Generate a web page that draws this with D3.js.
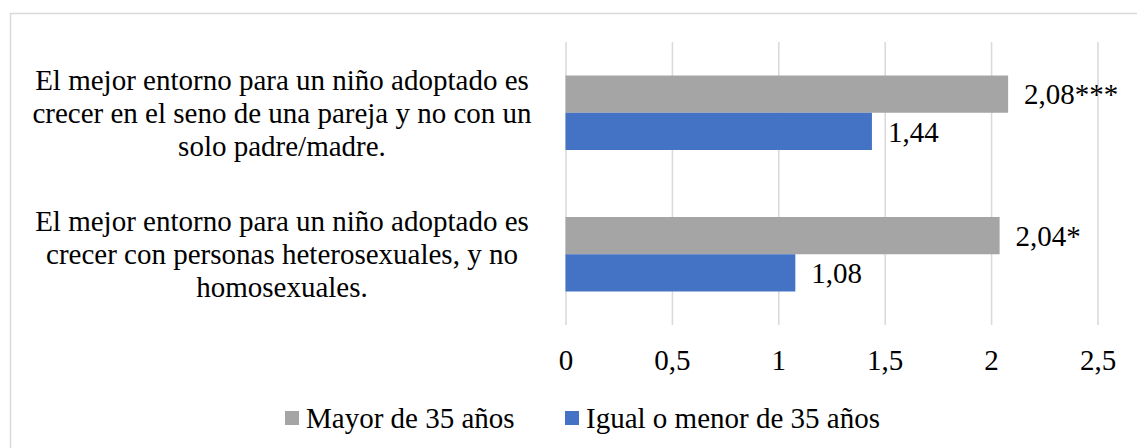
<!DOCTYPE html>
<html lang="es">
<head>
<meta charset="utf-8">
<title>Entorno adopción por edad</title>
<script src="https://cdn.jsdelivr.net/npm/d3@7"></script>
<style>
  body { margin: 0; background: #fff; }
  svg text { font-family: "Liberation Serif", "Times New Roman", Tinos, "DejaVu Serif", serif; fill: #000; }
</style>
</head>
<body>
<script>
// categories (each label line by line, as in the original)
var categories = ["pareja", "hetero"];
var catLines = [
  ["El mejor entorno para un niño adoptado es", "crecer en el seno de una pareja y no con un", "solo padre/madre."],
  ["El mejor entorno para un niño adoptado es", "crecer con personas heterosexuales, y no", "homosexuales."]
];
var seriesNames = ["Mayor de 35 años", "Igual o menor de 35 años"];
var seriesColors = ["#A5A5A5", "#4472C4"];
var mayorValues = [2.08, 2.04];
var menorValues = [1.44, 1.08];
var mayorSig = ["***", "*"];
var menorSig = ["", ""];
var tickValues = [0, 0.5, 1, 1.5, 2, 2.5];

var W = 1137, H = 448;
var plot = {left: 565.5, right: 1097.5, top: 42, bottom: 325};
var fs = 29;
var serif = "'Liberation Serif', 'Times New Roman', Tinos, 'DejaVu Serif', serif";

var svg = d3.select("body").append("svg")
  .attr("width", W).attr("height", H)
  .attr("font-family", serif);

// chart border (runs off the right/bottom of the picture)
svg.append("rect")
  .attr("x", 10.5).attr("y", 13.5)
  .attr("width", 1140).attr("height", 450)
  .attr("fill", "none").attr("stroke", "#D9D9D9").attr("stroke-width", 1.5);

var x = d3.scaleLinear().domain([0, 2.5]).range([plot.left, plot.right]);
var y = d3.scaleBand().domain(categories).range([plot.top, plot.bottom]);
var ySub = d3.scaleBand().domain([0, 1]).range([0, y.bandwidth()]).paddingOuter(0.9);

// gridlines
svg.append("g")
  .attr("transform", "translate(0," + plot.bottom + ")")
  .call(d3.axisBottom(x).tickValues(tickValues).tickSize(-(plot.bottom - plot.top)).tickFormat(""))
  .call(function(g){
    g.select(".domain").remove();
    g.selectAll("line").attr("stroke", "#D9D9D9").attr("stroke-width", 1.5);
  });

// x tick labels
var fmt = function(d){ return String(d).replace(".", ","); };
svg.append("g")
  .attr("transform", "translate(0," + plot.bottom + ")")
  .call(d3.axisBottom(x).tickValues(tickValues).tickSize(0).tickPadding(24).tickFormat(fmt))
  .call(function(g){
    g.attr("font-family", serif).attr("font-size", fs);
    g.select(".domain").remove();
    g.selectAll("text").attr("fill", "#000");
  });

// bars
var rows = [];
categories.forEach(function(c, i){
  rows.push({cat: c, s: 0, v: mayorValues[i], sig: mayorSig[i]});
  rows.push({cat: c, s: 1, v: menorValues[i], sig: menorSig[i]});
});

svg.append("g").selectAll("rect")
  .data(rows).enter().append("rect")
  .attr("x", x(0))
  .attr("y", function(d){ return y(d.cat) + ySub(d.s); })
  .attr("width", function(d){ return x(d.v) - x(0); })
  .attr("height", ySub.bandwidth())
  .attr("fill", function(d){ return seriesColors[d.s]; });

// value labels
svg.append("g").selectAll("text")
  .data(rows).enter().append("text")
  .attr("x", function(d){ return x(d.v) + 16; })
  .attr("y", function(d){ return y(d.cat) + ySub(d.s) + ySub.bandwidth() / 2; })
  .attr("dy", "0.35em")
  .attr("font-size", fs)
  .text(function(d){ return d.v.toFixed(2).replace(".", ",") + d.sig; });

// category labels
var lab = svg.append("g").selectAll("text")
  .data(categories).enter().append("text")
  .attr("text-anchor", "middle")
  .attr("font-size", fs)
  .attr("y", function(d){ return y(d) + y.bandwidth() / 2 + 10; });
lab.selectAll("tspan")
  .data(function(d, i){ return catLines[i]; })
  .enter().append("tspan")
  .attr("x", 282)
  .attr("dy", function(d, i){ return i === 0 ? -33 : 33; })
  .text(function(d){ return d; });

// legend
var legX = [285, 565];
var leg = svg.append("g").selectAll("g")
  .data(seriesNames).enter().append("g")
  .attr("transform", function(d, i){ return "translate(" + legX[i] + ",411)"; });
leg.append("rect").attr("width", 14).attr("height", 14)
  .attr("fill", function(d, i){ return seriesColors[i]; });
leg.append("text").attr("x", 21).attr("y", 17).attr("font-size", fs)
  .text(function(d){ return d; });
</script>
</body>
</html>
